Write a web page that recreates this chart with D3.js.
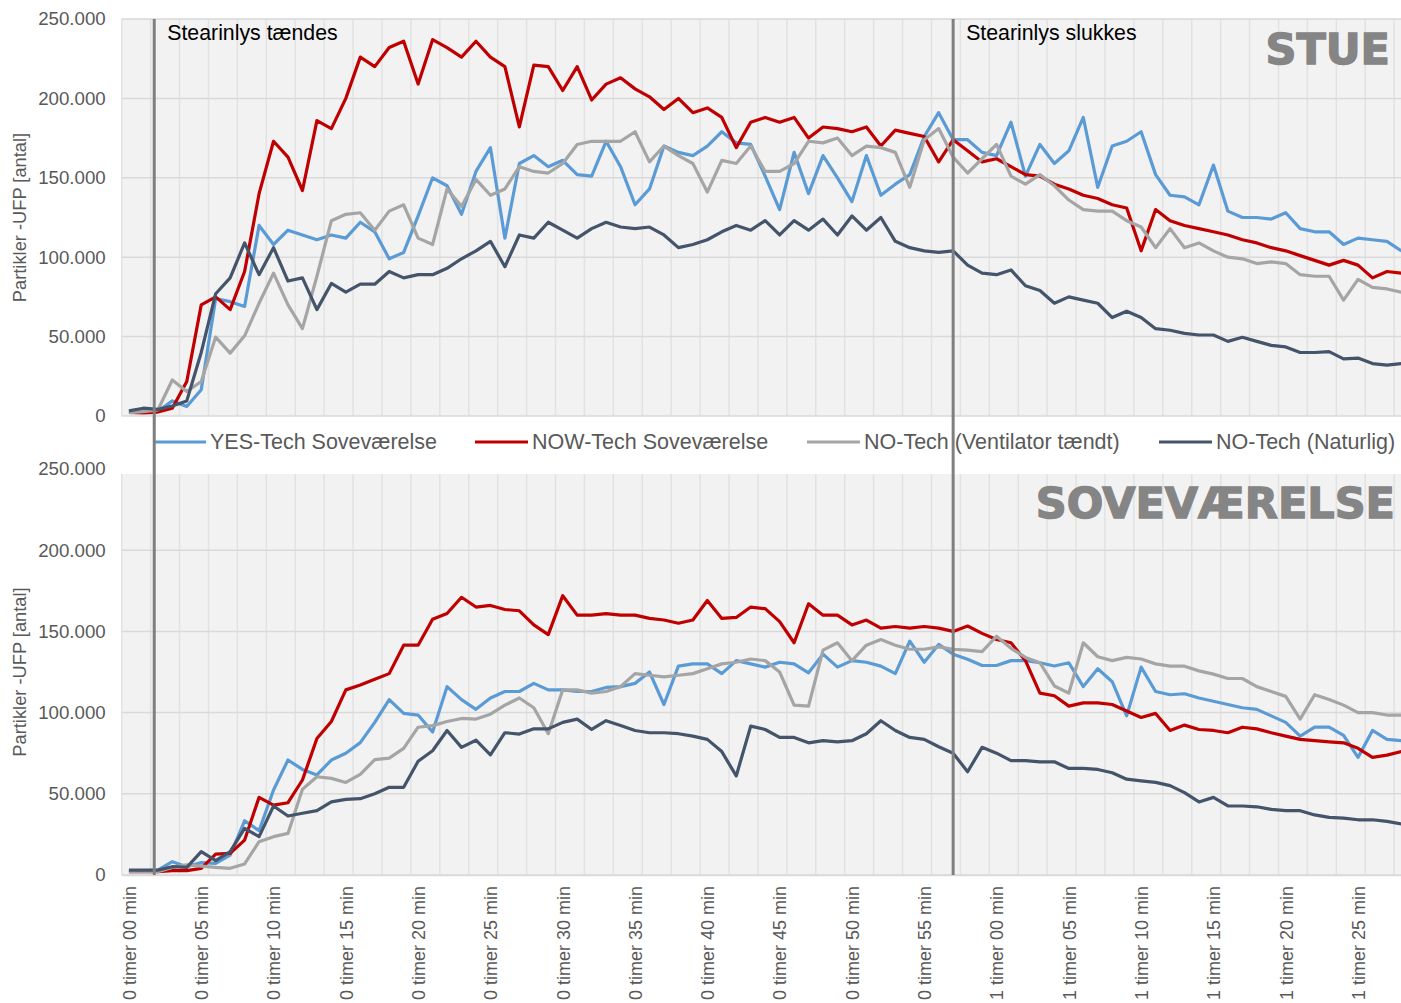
<!DOCTYPE html>
<html>
<head>
<meta charset="utf-8">
<script src="https://cdn.jsdelivr.net/npm/d3@7"></script>
<style>
  html, body { margin: 0; padding: 0; background: #fff; overflow: hidden; }
  svg { display: block; font-family: "Liberation Sans", Arial, sans-serif; }
</style>
</head>
<body>
<svg width="1401" height="1003"></svg>
<script>
// values in thousands of particles, one point per minute (0 .. 88 min)
const yesStue = [2.5,2.5,3,9.5,6,16.5,74,72,69,120,108,117,114,111,114,112,122,116,99,103,126,150,145,127,154,169,112,159,164,157,161,152,151,173,157,133,143,170,166,164,170,179,172,171,151,130,166,140,164,150,135,164,139,146,152,176,191,174,174,166,164,185,151,171,159,167,188,144,170,173,179,152,139,138,133,158,129,125,125,124,128,118,116,116,108,112,111,110,104];
const nowStue = [2.3,2,2.5,4.9,21.7,70,75,67,91,140,173,163,142,186,181,200,226,220,232,236,209,237,232,226,236,226,220,182,221,220,205,220,199,209,213,206,201,193,200,191,194,188,169,185,188,185,188,175,182,181,179,182,170,180,178,176,160,174,167,160,162,157,152,151,146,143,139,137,133,131,104,130,123,120,118,116,114,111,109,106,104,101,98,95,98,95,87,91,90];
const ventStue = [2.1,2.7,3.8,22.7,15.4,21.7,49.7,39.6,50.5,71,90,70,55,88,123,127,128,117,129,133,112,108,143,132,149,139,143,157,154,153,159,171,173,173,173,179,160,170,164,159,141,161,159,170,154,154,159,173,172,175,164,170,169,166,144,174,181,163,153,162,171,151,146,152,145,136,130,129,129,123,119,106,118,106,109,104,100,99,96,97,96,89,88,88,73,86,81,80,78];
const natStue = [3.2,4.9,4.2,6.3,9.5,40,77,87,109,89,106,85,87,67,83.5,78,83,83,91,87,89,89,93,99,104,110,94,114,112,122,117,112,118,122,119,118,119,114,106,108,111,116,120,117,123,114,123,117,124,114,126,117,125,110,106,104,103,104,95,90,89,92,82,79,71,75,73,71,62,66,62,55,54,52,51,51,47,49.6,47,44.5,43.5,40,40,40.5,36,36.5,33,32,33];

const yesSov = [2.5,2.5,3,8.2,5.1,7.6,7.2,12.3,33.4,27.3,52.3,70.8,65,61.6,70.8,75,81.5,94,108,99.5,98.5,88,116,108,102,109,113,113,118,114,114,113,113,115.5,116,118,125,105,128.6,130,130,124,132,130,128,131,130,124.5,136,128,132,131,128.6,124,144,131,142,136,132.8,129,129,132,132,130.7,128.7,130.7,116,127,119,98,128,113,111,111.6,109,107,105,103,102,98,94,85.5,91,91,86,72.4,89,83.5,82.7];
const nowSov = [2,2,2,2.7,2.7,4.1,12.9,13.3,21.5,47.8,43,44.5,58.5,84,94.5,114,117,120.5,124,141.5,141.5,157.5,161,171,165,166,163.5,162.7,154,148,172,160,160,161,160,160,158,157,155,157,169,158,158.6,165,164,156,143,167,160,160,154,157,152,153,152,153,152,150,153.3,148.8,145,143,132,112,110.4,104,106,106,105,101,97,99.5,89,92.3,89.6,89,87.6,91,90,87.6,85.5,83.5,82.7,82,81.4,78,72.4,73.8,76];
const ventSov = [2,2,2,4.7,6.2,5.5,4.7,4.1,6.8,20.5,23.6,25.6,52.8,60.5,59.5,57,62,71,72,78,91,92,94.5,96.4,96,99,104.6,109,103,87,114,114,112,113,116,124,123,122,123,124,127,130,131,133,132,125,104.6,104,138.5,143,132,141.5,145,141.5,139,139,140.5,139,138.5,137.5,147,139.6,134,130.7,116.4,112,143,134.4,132,134,133,130,128.6,128.6,125.7,123.7,121,121,116,113,110,96,111,108,104.6,100,100,98.5,98.5];
const natSov = [3,3,3,5.1,4.7,14.4,8.8,14.4,28.7,23.6,42.5,36.3,38,39.6,45,46.6,47,50,54,54,70,76.5,89,78.6,83,74,87.6,86.8,90,90,94,96,89.6,95,92,89,87.6,87.6,87,85.5,83.5,76,61,91.7,89.6,84.7,84.7,81.4,82.7,82,82.7,87,95,89,84.7,83.5,79,75,63.6,78.6,75,70.4,70.4,69.7,69.7,65.6,65.6,65,63,59,58,57,55,50.7,45,47.8,42.5,42.5,42,40.4,39.6,39.6,37,35.5,35,34,34,33,31.4];

const seriesNames = ["YES-Tech Soveværelse", "NOW-Tech Soveværelse", "NO-Tech (Ventilator tændt)", "NO-Tech (Naturlig)"];
const seriesColors = ["#5b9bd5", "#c00000", "#a5a5a5", "#44546a"];
const tickMinutes = [0,5,10,15,20,25,30,35,40,45,50,55,60,65,70,75,80,85];
const tickLabels = ["0 timer 00 min","0 timer 05 min","0 timer 10 min","0 timer 15 min","0 timer 20 min","0 timer 25 min","0 timer 30 min","0 timer 35 min","0 timer 40 min","0 timer 45 min","0 timer 50 min","0 timer 55 min","1 timer 00 min","1 timer 05 min","1 timer 10 min","1 timer 15 min","1 timer 20 min","1 timer 25 min"];
const yTicks = [0, 50, 100, 150, 200, 250];
const events = [{label: "Stearinlys tændes", at: 1.75}, {label: "Stearinlys slukkes", at: 57}];

const svg = d3.select("svg");
const nMin = yesStue.length;
const left = 121.7, step = 14.46;

const x = d3.scaleLinear().domain([-0.5, nMin - 0.5]).range([left, left + nMin * step]);
const da = d3.formatLocale({decimal: ",", thousands: ".", grouping: [3], currency: ["", " kr."]});
const fmt = da.format(",");

const panels = [
  {data: [yesStue, nowStue, ventStue, natStue], y: d3.scaleLinear().domain([0, 250]).range([416, 19]), bgTop: 19, titleX: 1390, titleY: 64, title: "STUE"},
  {data: [yesSov, nowSov, ventSov, natSov], y: d3.scaleLinear().domain([0, 250]).range([875, 469]), bgTop: 474, titleX: 1395, titleY: 518, title: "SOVEVÆRELSE"}
];

const line = (y) => d3.line().x((d, i) => x(i)).y(d => y(d));

panels.forEach(p => {
  const g = svg.append("g");
  const y = p.y;
  const bottom = y(0);
  g.append("rect").attr("x", left).attr("y", p.bgTop).attr("width", 1401 - left).attr("height", bottom - p.bgTop).attr("fill", "#f2f2f2");

  // vertical grid every 2 minutes
  g.selectAll(".vg").data(d3.range(0, nMin + 1, 2)).enter().append("line")
    .attr("x1", d => x(d - 0.5)).attr("x2", d => x(d - 0.5))
    .attr("y1", p.bgTop).attr("y2", bottom)
    .attr("stroke", "#e2e2e2").attr("stroke-width", 1.5);

  g.selectAll(".hg").data(yTicks.filter(t => y(t) >= p.bgTop - 0.5)).enter().append("line")
    .attr("x1", left).attr("x2", 1401)
    .attr("y1", d => y(d)).attr("y2", d => y(d))
    .attr("stroke", "#d9d9d9").attr("stroke-width", 1.5);

  const ax = g.append("g").attr("transform", `translate(${left - 16},0)`)
    .call(d3.axisLeft(y).tickValues(yTicks).tickSize(0).tickPadding(0).tickFormat(d => fmt(d * 1000)));
  ax.select(".domain").remove();
  ax.selectAll("text").attr("font-size", 18.7).attr("fill", "#595959").attr("font-family", "Liberation Sans, Arial, sans-serif");

  g.append("text").attr("transform", `translate(20,${(y(0) + y(250)) / 2}) rotate(-90)`)
    .attr("text-anchor", "middle").attr("dy", "0.35em")
    .attr("font-size", 18.3).attr("fill", "#595959").text("Partikler -UFP [antal]");

  g.append("text").attr("x", p.titleX).attr("y", p.titleY).attr("text-anchor", "end")
    .attr("font-family", "DejaVu Sans, sans-serif").attr("font-weight", "bold").attr("font-size", 43)
    .attr("fill", "#858585").attr("stroke", "#858585").attr("stroke-width", 1.4)
    .text(p.title);

  p.data.forEach((vals, k) => {
    g.append("path").datum(vals).attr("d", line(y))
      .attr("fill", "none").attr("stroke", seriesColors[k]).attr("stroke-width", 3.2)
      .attr("stroke-linejoin", "round");
  });
});

// x axis labels under bottom panel
const bx = svg.append("g").attr("transform", `translate(0,875)`)
  .call(d3.axisBottom(x).tickValues(tickMinutes).tickSize(0).tickFormat((d, i) => tickLabels[i]));
bx.select(".domain").attr("stroke", "#d9d9d9").attr("stroke-width", 1.5);
bx.selectAll("text").attr("font-size", 18).attr("fill", "#595959")
  .attr("font-family", "Liberation Sans, Arial, sans-serif")
  .attr("text-anchor", "end").attr("transform", "rotate(-90)")
  .attr("x", -11).attr("y", 0).attr("dy", "0.35em");

// legend
const legX = [153, 475, 807, 1159];
const leg = svg.append("g");
seriesNames.forEach((name, k) => {
  leg.append("line").attr("x1", legX[k]).attr("x2", legX[k] + 53).attr("y1", 442).attr("y2", 442)
    .attr("stroke", seriesColors[k]).attr("stroke-width", 3.2);
  leg.append("text").attr("x", legX[k] + 57).attr("y", 449).attr("font-size", 21.5).attr("fill", "#595959").text(name);
});

// candle event lines
events.forEach(e => {
  svg.append("line").attr("x1", x(e.at)).attr("x2", x(e.at)).attr("y1", 19).attr("y2", 875)
    .attr("stroke", "#7f7f7f").attr("stroke-width", 3);
  svg.append("text").attr("x", x(e.at) + 13).attr("y", 40).attr("font-size", 21.3).attr("fill", "#000").text(e.label);
});
</script>
</body>
</html>
